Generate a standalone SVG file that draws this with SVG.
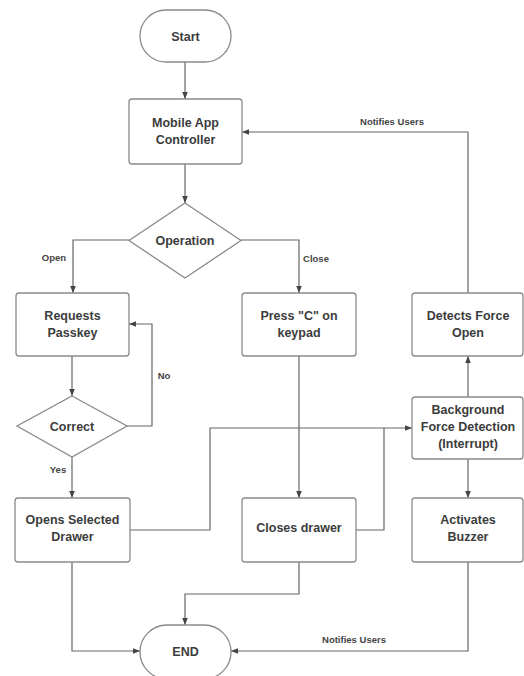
<svg xmlns="http://www.w3.org/2000/svg" width="524" height="676" viewBox="0 0 524 676">
<defs>
<marker id="ah" viewBox="0 0 10 10" refX="10" refY="5" markerWidth="7" markerHeight="7" orient="auto" markerUnits="userSpaceOnUse">
<path d="M0,1 L10,5 L0,9 z" fill="#444"/>
</marker>
<style>
.n{fill:#fff;stroke:#8a8a8a;stroke-width:1.3}
.t{font-family:"Liberation Sans",Arial,sans-serif;font-weight:bold;font-size:12.5px;fill:#3c3c3c;text-anchor:middle}
.l{font-family:"Liberation Sans",Arial,sans-serif;font-weight:bold;font-size:9.5px;fill:#444;text-anchor:middle}
.c{fill:none;stroke:#666;stroke-width:1.2}
</style>
</defs>
<rect width="524" height="676" fill="#fff"/>
<g id="connectors">
<path class="c" d="M185,62 V99" marker-end="url(#ah)"/>
<path class="c" d="M185,164 V203" marker-end="url(#ah)"/>
<path class="c" d="M129,240 H73 V293" marker-end="url(#ah)"/>
<path class="c" d="M241,240 H299 V293" marker-end="url(#ah)"/>
<path class="c" d="M72,356 V396" marker-end="url(#ah)"/>
<path class="c" d="M127,426 H152 V324 H129" marker-end="url(#ah)"/>
<path class="c" d="M72,457 V498" marker-end="url(#ah)"/>
<path class="c" d="M299,356 V498" marker-end="url(#ah)"/>
<path class="c" d="M130,530 H210 V428 H412" marker-end="url(#ah)"/>
<path class="c" d="M356,530 H384 V428"/>
<path class="c" d="M468,397 V356" marker-end="url(#ah)"/>
<path class="c" d="M468,459 V498" marker-end="url(#ah)"/>
<path class="c" d="M468,293 V132 H242" marker-end="url(#ah)"/>
<path class="c" d="M299,562 V594 H185 V625" marker-end="url(#ah)"/>
<path class="c" d="M72,562 V651 H140" marker-end="url(#ah)"/>
<path class="c" d="M468,562 V651 H231" marker-end="url(#ah)"/>
<text class="l" x="392" y="125">Notifies Users</text>
<text class="l" x="54" y="261">Open</text>
<text class="l" x="316" y="262">Close</text>
<text class="l" x="164" y="379">No</text>
<text class="l" x="58" y="473">Yes</text>
<text class="l" x="354" y="643">Notifies Users</text>
</g>
<g id="start">
<rect class="n" x="140" y="10" width="91" height="52" rx="26"/>
<text class="t" x="185.5" y="40.5">Start</text>
</g>
<g id="mobile">
<rect class="n" x="129" y="99" width="113" height="65" rx="3"/>
<text class="t" x="185.5" y="127">Mobile App</text>
<text class="t" x="185.5" y="144">Controller</text>
</g>
<g id="operation">
<polygon class="n" points="185,203 241,240.5 185,278 129,240.5"/>
<text class="t" x="185" y="244.5">Operation</text>
</g>
<g id="requests">
<rect class="n" x="16" y="293" width="113" height="63" rx="3"/>
<text class="t" x="72.5" y="320">Requests</text>
<text class="t" x="72.5" y="337">Passkey</text>
</g>
<g id="pressc">
<rect class="n" x="242" y="293" width="114" height="63" rx="3"/>
<text class="t" x="299" y="320">Press "C" on</text>
<text class="t" x="299" y="337">keypad</text>
</g>
<g id="detects">
<rect class="n" x="412" y="293" width="111" height="63" rx="3"/>
<text class="t" x="468" y="320">Detects Force</text>
<text class="t" x="468" y="337">Open</text>
</g>
<g id="correct">
<polygon class="n" points="72,396 127,426 72,457 17,426"/>
<text class="t" x="72" y="430.5">Correct</text>
</g>
<g id="background">
<rect class="n" x="412" y="397" width="111" height="62" rx="3"/>
<text class="t" x="468" y="414">Background</text>
<text class="t" x="468" y="431">Force Detection</text>
<text class="t" x="468" y="448">(Interrupt)</text>
</g>
<g id="opens">
<rect class="n" x="15" y="498" width="115" height="64" rx="3"/>
<text class="t" x="72.5" y="524">Opens Selected</text>
<text class="t" x="72.5" y="541">Drawer</text>
</g>
<g id="closes">
<rect class="n" x="242" y="498" width="114" height="64" rx="3"/>
<text class="t" x="299" y="532">Closes drawer</text>
</g>
<g id="buzzer">
<rect class="n" x="412" y="498" width="111" height="64" rx="3"/>
<text class="t" x="468" y="524">Activates</text>
<text class="t" x="468" y="541">Buzzer</text>
</g>
<g id="end">
<rect class="n" x="140" y="625" width="91" height="54" rx="27"/>
<text class="t" x="185.5" y="656">END</text>
</g>
</svg>
